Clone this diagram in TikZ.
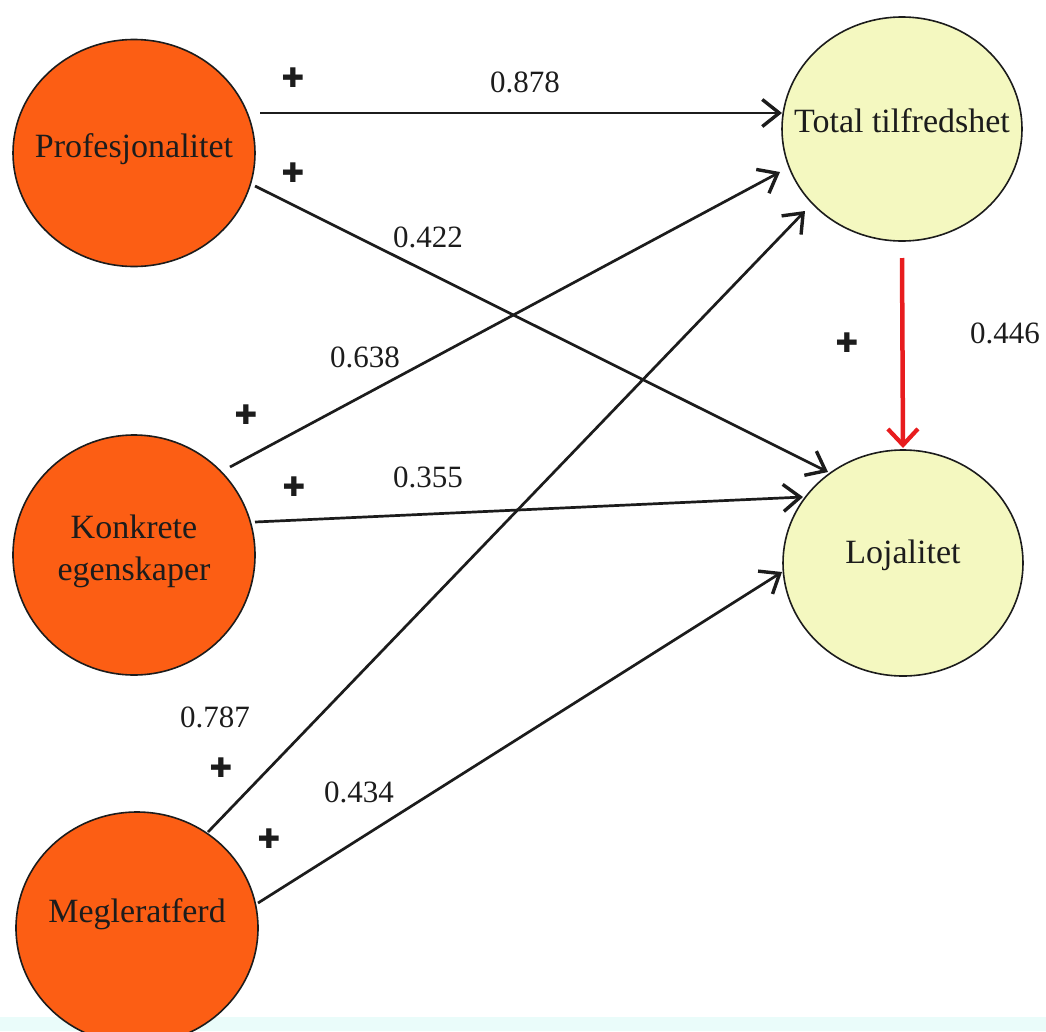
\documentclass[tikz,border=0pt]{standalone}
\usepackage{fontspec}
\setmainfont{Liberation Serif}
\newfontfamily\symfont{DejaVu Sans}
\usetikzlibrary{shapes.geometric,arrows.meta,calc}
\definecolor{orangefill}{RGB}{252,94,20}
\definecolor{yellowfill}{RGB}{244,248,192}
\definecolor{redarrow}{RGB}{232,28,30}
\definecolor{cyanband}{RGB}{234,252,250}
\definecolor{ink}{RGB}{28,28,28}
\newcommand{\nodetext}[2]{\makebox[0pt]{\raisebox{#1}[0pt][0pt]{#2}}}
\begin{document}
\begin{tikzpicture}[x=1pt,y=-1pt,
  latent/.style={ellipse, draw=ink, line width=1.6pt, inner sep=0pt,
    text=ink, font=\fontsize{34}{42}\selectfont},
  src/.style={latent, fill=orangefill},
  tgt/.style={latent, fill=yellowfill},
  coef/.style={text=ink, inner sep=0pt, font=\fontsize{31}{36}\selectfont},
  plus/.style={text=ink, inner sep=0pt, font=\symfont\fontsize{27}{28}\selectfont},
  path/.style={draw=ink, line width=2.7pt, -{Straight Barb[length=17pt,width=27pt,line width=3.4pt]}},
  redpath/.style={draw=redarrow, line width=4.5pt, -{Straight Barb[length=16pt,width=30pt,line width=4.2pt]}}
]
\useasboundingbox (0,0) rectangle (1046,1031);
\clip (0,0) rectangle (1046,1031);
\fill[cyanband] (0,1017) rectangle (1046,1031);

\node[src, minimum width=242pt, minimum height=227pt] (P) at (134,153) {\nodetext{-4pt}{Profesjonalitet}};
\node[src, minimum width=242pt, minimum height=240pt] (K) at (134,555) {\nodetext{17pt}{Konkrete}\nodetext{-25pt}{egenskaper}};
\node[src, minimum width=242pt, minimum height=232pt] (M) at (137,928) {\nodetext{6pt}{Megleratferd}};
\node[tgt, minimum width=240pt, minimum height=224pt] (T) at (902,129) {\nodetext{-3pt}{Total tilfredshet}};
\node[tgt, minimum width=240pt, minimum height=226pt] (L) at (903,563) {\nodetext{0pt}{Lojalitet}};

\draw[path] ($(P)+(126,-40)$) -- ($(T)+(-120,-16)$);
\draw[path] ($(P)+(121,33)$) -- ($(L)+(-75,-91)$);
\draw[path] ($(K)+(96,-88)$) -- ($(T)+(-122,43)$);
\draw[path] ($(K)+(121,-33)$) -- ($(L)+(-100,-66)$);
\draw[path] ($(M)+(71,-96)$) -- ($(T)+(-97,82)$);
\draw[path] ($(M)+(121,-25)$) -- ($(L)+(-121,9)$);
\draw[redpath] ($(T)+(0,129)$) -- ($(L)+(0,-115)$);

\node[coef] (c1) at (525,82) {0.878};
\node[coef] (c2) at (428,237) {0.422};
\node[coef] (c3) at (365,357) {0.638};
\node[coef] (c4) at (428,477) {0.355};
\node[coef] (c5) at (215,717) {0.787};
\node[coef] (c6) at (359,792) {0.434};
\node[coef] (c7) at (1005,333) {0.446};

\node[plus] (p1) at (293,78) {✚};
\node[plus] (p2) at (293,173) {✚};
\node[plus] (p3) at (246,415) {✚};
\node[plus] (p4) at (294,487) {✚};
\node[plus] (p5) at (221,768) {✚};
\node[plus] (p6) at (269,839) {✚};
\node[plus] (p7) at (847,343) {✚};
\end{tikzpicture}
\end{document}
